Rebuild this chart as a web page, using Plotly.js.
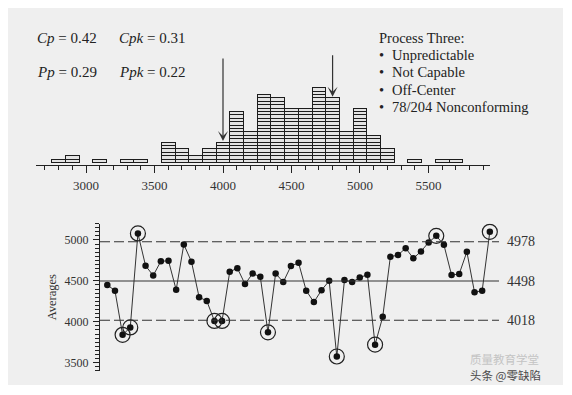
<!DOCTYPE html>
<html><head><meta charset="utf-8">
<script src="https://cdn.plot.ly/plotly-3.0.1.min.js"></script>
<style>
html,body{margin:0;padding:0;background:#ffffff;width:572px;height:395px;overflow:hidden}
#chart{position:absolute;left:8px;top:8px;width:555px;height:377px}
</style></head>
<body><div id="chart"></div>
<script>
// ---- Histogram of individual values (bins of width 100, labelled by centre) ----
const binCenters = [2800,2900,3000,3100,3200,3300,3400,3500,3600,3700,3800,3900,4000,4100,4200,4300,4400,4500,4600,4700,4800,4900,5000,5100,5200,5300,5400,5500,5600,5700];
const binCounts  = [1,2,0,1,0,1,1,0,6,4,2,4,6,15,9,20,19,16,16,22,19,9,16,8,4,0,1,0,1,1];
const histTicks  = [3000,3500,4000,4500,5000,5500];
const arrowValues = [4000, 4800];

// ---- Average chart ----
const averages = [4450,4380,3840,3930,5080,4685,4565,4740,4745,4390,
                  4945,4735,4300,4255,4010,4010,4610,4655,4460,4590,
                  4550,3870,4590,4485,4680,4720,4380,4240,4385,4500,
                  3575,4510,4485,4540,4575,3720,4060,4795,4815,4900,
                  4775,4860,4970,5050,4940,4570,4585,4855,4360,4380,5100];
const limitValues = [4978, 4498, 4018];
const limitLabels = ['4978', '4498', '4018'];
const avgTicks = [3500,4000,4500,5000];

const statsText = [
  {text:'<i>Cp</i> = 0.42', col:0, row:0},
  {text:'<i>Cpk</i> = 0.31', col:1, row:0},
  {text:'<i>Pp</i> = 0.29', col:0, row:1},
  {text:'<i>Ppk</i> = 0.22', col:1, row:1}
];
const processTitle = 'Process Three:';
const processItems = ['Unpredictable','Not Capable','Off-Center','78/204 Nonconforming'];
const watermark = ['质量教育学堂', '头条 @零缺陷'];

const SERIF = '"Liberation Serif", "Times New Roman", serif';
const INK = '#222222';
const W = 555, H = 377, OFF = 8;
const px = v => (v - OFF) / W;          // page x -> paper fraction
const py = v => 1 - (v - OFF) / H;      // page y -> paper fraction

const traces = [];
const maxCount = Math.max(...binCounts);
for (let level = 1; level <= maxCount; level++) {
  traces.push({
    type: 'bar', x: binCenters,
    y: binCounts.map(c => c >= level ? 1 : null),
    width: 100, xaxis: 'x', yaxis: 'y',
    marker: {color: '#e3e3e3', line: {color: '#1c1c1c', width: 1}},
    hoverinfo: 'skip', showlegend: false
  });
}

const idx = averages.map((_, i) => i + 1);
traces.push({
  type: 'scatter', mode: 'lines+markers', x: idx, y: averages,
  xaxis: 'x2', yaxis: 'y2',
  line: {color: '#333333', width: 1},
  marker: {color: '#111111', size: 6.5},
  showlegend: false
});
const ucl = limitValues[0], lcl = limitValues[2];
const outIdx = idx.filter((_, i) => averages[i] > ucl || averages[i] < lcl);
traces.push({
  type: 'scatter', mode: 'markers',
  x: outIdx, y: outIdx.map(i => averages[i - 1]),
  xaxis: 'x2', yaxis: 'y2',
  marker: {symbol: 'circle-open', size: 15, color: '#222222', line: {width: 1.2, color: '#222222'}},
  showlegend: false
});

const shapes = limitValues.map((v, i) => ({
  type: 'line', xref: 'x2 domain', yref: 'y2', x0: 0, x1: 1, y0: v, y1: v,
  line: {color: '#333333', width: 1.1, dash: i === 1 ? 'solid' : '10px,4px'}
}));

const annotations = [];
statsText.forEach(s => annotations.push({
  xref: 'paper', yref: 'paper', x: px(s.col ? 117 : 35), y: py(s.row ? 72 : 38),
  xanchor: 'left', yanchor: 'middle', showarrow: false, text: s.text,
  font: {family: SERIF, size: 15, color: INK}
}));
annotations.push({
  xref: 'paper', yref: 'paper', x: px(377), y: py(38), xanchor: 'left', yanchor: 'middle',
  showarrow: false, text: processTitle, font: {family: SERIF, size: 14.5, color: INK}
});
processItems.forEach((t, i) => {
  const yy = py(55 + i * 17.3);
  annotations.push({xref: 'paper', yref: 'paper', x: px(377), y: yy, xanchor: 'left', yanchor: 'middle',
    showarrow: false, text: '•', font: {family: SERIF, size: 14.5, color: INK}});
  annotations.push({xref: 'paper', yref: 'paper', x: px(390), y: yy, xanchor: 'left', yanchor: 'middle',
    showarrow: false, text: t, font: {family: SERIF, size: 14.5, color: INK}});
});
arrowValues.forEach((v, i) => {
  const c = binCounts[binCenters.indexOf(v)];
  annotations.push({
    xref: 'x', yref: 'y', x: v, y: c + 0.3, text: '', showarrow: true,
    arrowhead: 3, arrowsize: 1.4, arrowwidth: 1.2, arrowcolor: '#333333',
    ax: 0, ay: i === 0 ? -84 : -43, standoff: 0
  });
});
limitValues.forEach((v, i) => annotations.push({
  xref: 'paper', yref: 'y2', x: px(505), y: v, xanchor: 'left', yanchor: 'middle',
  showarrow: false, text: limitLabels[i], font: {family: SERIF, size: 14, color: '#333333'}
}));
annotations.push({
  xref: 'paper', yref: 'paper', x: px(468), y: py(359), xanchor: 'left', yanchor: 'middle',
  showarrow: false, text: watermark[0], font: {family: '"Noto Sans CJK SC", sans-serif', size: 11.5, color: '#c4c4c4'}
});
annotations.push({
  xref: 'paper', yref: 'paper', x: px(468), y: py(375), xanchor: 'left', yanchor: 'middle',
  showarrow: false, text: watermark[1], font: {family: '"Noto Sans CJK SC", sans-serif', size: 11.5, color: '#4a4a4a'}
});

const layout = {
  width: W, height: H,
  margin: {l: 0, r: 0, t: 0, b: 0, autoexpand: false},
  paper_bgcolor: '#efefef', plot_bgcolor: 'rgba(0,0,0,0)',
  barmode: 'stack', bargap: 0,
  font: {family: SERIF, color: '#333333'},
  xaxis: {
    domain: [px(36), px(490)], range: [2635, 5949], anchor: 'y',
    showline: true, linecolor: INK, linewidth: 1.2, showgrid: false, zeroline: false,
    tickmode: 'array', tickvals: histTicks, ticks: 'outside', ticklen: 7, tickwidth: 1, tickcolor: INK,
    ticklabelstandoff: 1,
    minor: {dtick: 100, tick0: 3000, ticks: 'outside', ticklen: 4, tickwidth: 1, tickcolor: INK, showgrid: false},
    tickfont: {family: SERIF, size: 13, color: '#333333'}, fixedrange: true
  },
  yaxis: {
    domain: [py(165), py(29.85)], range: [-0.75, 39], anchor: 'x',
    visible: false, fixedrange: true
  },
  xaxis2: {
    domain: [px(100), px(499)], range: [0.045, 52.2], anchor: 'y2',
    visible: false, fixedrange: true
  },
  yaxis2: {
    domain: [py(370.8), py(223.6)], range: [3400, 5200], anchor: 'x2',
    showline: true, linecolor: INK, linewidth: 1.1, showgrid: false, zeroline: false,
    tickmode: 'array', tickvals: avgTicks, ticks: 'outside', ticklen: 6, tickwidth: 1, tickcolor: INK,
    ticklabelstandoff: 2,
    minor: {dtick: 50, tick0: 3400, ticks: 'outside', ticklen: 4, tickwidth: 1, tickcolor: INK, showgrid: false},
    tickfont: {family: SERIF, size: 12, color: '#333333'},
    title: {text: 'Averages', font: {family: SERIF, size: 12.5, color: '#333333'}, standoff: 5},
    fixedrange: true
  },
  shapes: shapes,
  annotations: annotations,
  showlegend: false
};

Plotly.newPlot('chart', traces, layout, {displayModeBar: false, staticPlot: true});
</script>
</body></html>
